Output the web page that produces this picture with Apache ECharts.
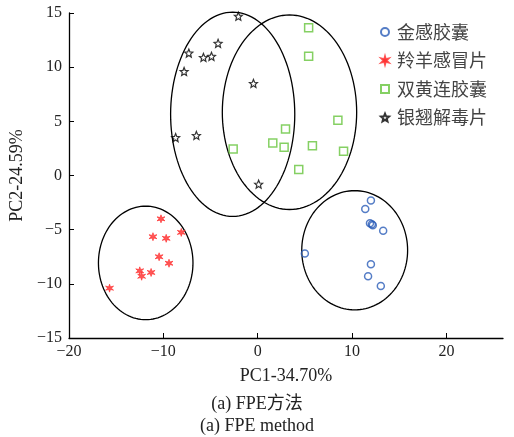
<!DOCTYPE html>
<html><head><meta charset="utf-8">
<script src="https://cdn.jsdelivr.net/npm/echarts@6/dist/echarts.min.js"></script>
<style>html,body{margin:0;padding:0;background:#fff}#c{width:514px;height:437px}</style>
</head><body><div id="c"></div>
<script>
// ---- data ----
const seriesNames = ['金感胶囊', '羚羊感冒片', '双黄连胶囊', '银翘解毒片'];
const jingan = [[12.0,-2.3],[11.4,-3.1],[11.9,-4.4],[12.1,-4.5],[12.2,-4.6],[13.3,-5.1],[5.0,-7.2],[12.0,-8.2],[11.7,-9.3],[13.05,-10.2]];
const lingyang = [[-10.25,-4.0],[-8.1,-5.25],[-11.1,-5.65],[-9.7,-5.8],[-10.45,-7.5],[-9.4,-8.1],[-12.5,-8.8],[-12.3,-9.3],[-11.3,-8.95],[-15.7,-10.4]];
const shuanghuang = [[5.4,13.65],[5.4,11.0],[8.5,5.1],[2.95,4.3],[1.6,3.0],[2.8,2.6],[5.8,2.75],[9.1,2.25],[-2.6,2.45],[4.35,0.55]];
const yinqiao = [[-2.05,14.7],[-4.2,12.2],[-7.3,11.3],[-5.75,10.9],[-4.9,11.0],[-7.8,9.6],[-0.45,8.5],[-8.7,3.5],[-6.5,3.7],[0.1,-0.8]];
// confidence ellipses: [cx, cy, rx, ry]
const ellipses = [[-2.65,5.65,6.58,9.43],[3.37,5.84,7.12,8.98],[-11.87,-8.07,5.01,5.24],[10.28,-6.9,5.61,5.5]];
const xTicks = [-20,-10,0,10,20];
const yTicks = [-15,-10,-5,0,5,10,15];

function starPath(n, rIn) {
  let d = '';
  for (let i = 0; i < n * 2; i++) {
    const r = i % 2 === 0 ? 1 : rIn;
    const a = -Math.PI / 2 + i * Math.PI / n;
    d += (i === 0 ? 'M' : 'L') + (10 + 10 * r * Math.cos(a)).toFixed(2) + ' ' + (10 + 10 * r * Math.sin(a)).toFixed(2) + ' ';
  }
  return 'path://' + d + 'Z';
}
const asterisk = starPath(6, 0.38);
const star5 = starPath(5, 0.45);
const minus = v => String(v).replace('-', '\u2212');
const serif = '"Liberation Serif","Times New Roman",serif';
const cjk = '"Liberation Serif","Noto Sans CJK SC",serif';

const chart = echarts.init(document.getElementById('c'));
chart.setOption({
  animation: false,
  grid: {left: 69, top: 13, right: 11, bottom: 99},
  legend: {
    orient: 'vertical', left: 375, top: 18, itemWidth: 8, itemHeight: 8, itemGap: 10.5,
    data: seriesNames,
    textStyle: {fontFamily: '"Noto Sans CJK SC"', fontSize: 18, color: '#444', lineHeight: 18, padding: [0, 0, 0, 3]}
  },
  xAxis: {
    type: 'value', min: -20, max: 26, interval: 10,
    name: 'PC1-34.70%', nameLocation: 'middle', nameGap: 29,
    nameTextStyle: {fontFamily: serif, fontSize: 18, color: '#222'},
    axisLine: {onZero: false, lineStyle: {color: '#000', width: 1.3}},
    axisTick: {inside: true, length: 5, customValues: xTicks, lineStyle: {color: '#000'}},
    axisLabel: {customValues: xTicks, formatter: minus, fontFamily: serif, fontSize: 16, color: '#222', margin: 6},
    splitLine: {show: false}
  },
  yAxis: {
    type: 'value', min: -15, max: 15, interval: 5,
    name: 'PC2-24.59%', nameLocation: 'middle', nameGap: 40,
    nameTextStyle: {fontFamily: serif, fontSize: 18, color: '#222'},
    axisLine: {show: true, onZero: false, lineStyle: {color: '#000', width: 1.3}},
    axisTick: {show: true, inside: true, length: 5, customValues: yTicks, lineStyle: {color: '#000'}},
    axisLabel: {customValues: yTicks, formatter: minus, fontFamily: serif, fontSize: 16, color: '#222', margin: 7},
    splitLine: {show: false}
  },
  graphic: [
    {type: 'text', left: 'center', top: 395, style: {text: '(a) FPE方法', font: '18px ' + cjk, fill: '#222'}},
    {type: 'text', left: 'center', top: 417, style: {text: '(a) FPE method', font: '18px ' + serif, fill: '#222'}}
  ],
  series: [
    {
      type: 'custom', name: 'ellipse', data: ellipses, clip: false, z: 1, silent: true,
      renderItem: function (params, api) {
        const cx = api.value(0), cy = api.value(1), rx = api.value(2), ry = api.value(3);
        const pts = [];
        for (let i = 0; i < 120; i++) {
          const a = i / 120 * Math.PI * 2;
          pts.push(api.coord([cx + rx * Math.cos(a), cy + ry * Math.sin(a)]));
        }
        return {type: 'polygon', shape: {points: pts}, style: {fill: 'none', stroke: '#000', lineWidth: 1.3}};
      }
    },
    {name: seriesNames[0], type: 'scatter', data: jingan, symbol: 'circle', symbolSize: 7, z: 3,
     itemStyle: {color: 'rgba(255,255,255,0)', borderColor: '#2a5cb8', borderWidth: 1.5}},
    {name: seriesNames[1], type: 'scatter', data: lingyang, symbol: asterisk, symbolSize: 8, z: 3,
     itemStyle: {color: '#ff2a2a', borderColor: '#ff2a2a', borderWidth: 0.8}},
    {name: seriesNames[2], type: 'scatter', data: shuanghuang, symbol: 'rect', symbolSize: 8, z: 3,
     itemStyle: {color: 'rgba(255,255,255,0)', borderColor: '#66c43c', borderWidth: 1.5}},
    {name: seriesNames[3], type: 'scatter', data: yinqiao, symbol: star5, symbolSize: 8, z: 3,
     itemStyle: {color: 'rgba(255,255,255,0)', borderColor: '#000', borderWidth: 1.2}}
  ]
});
</script></body></html>
